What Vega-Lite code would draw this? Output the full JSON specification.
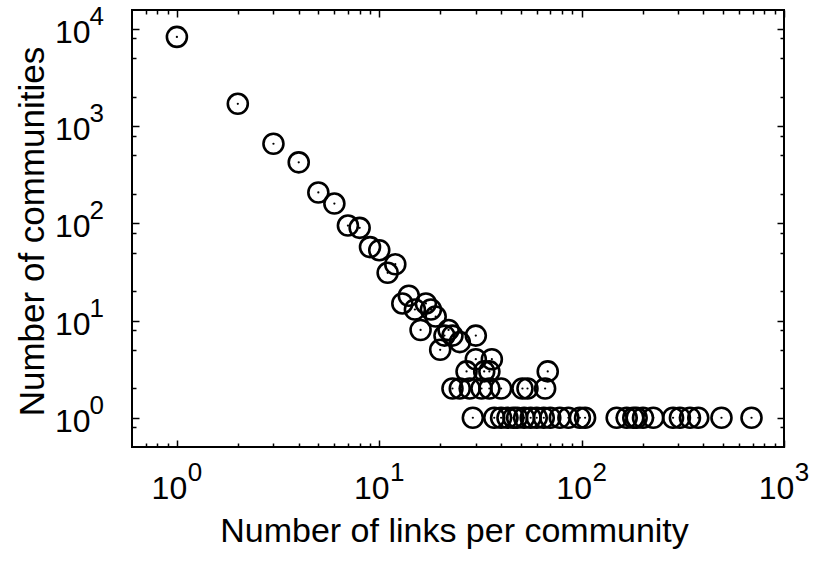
{
  "$schema": "https://vega.github.io/schema/vega-lite/v6.json",
  "width": 652,
  "height": 437,
  "autosize": "none",
  "padding": {"left": 132, "top": 10, "right": 31, "bottom": 114},
  "background": "white",
  "config": {
    "view": {"stroke": "black", "strokeWidth": 2},
    "font": "Liberation Sans",
    "axis": {
      "domain": false,
      "grid": false,
      "tickColor": "black",
      "tickWidth": 1.5,
      "labelColor": "black",
      "titleColor": "black",
      "labelFont": "Liberation Sans",
      "titleFont": "Liberation Sans",
      "titleFontWeight": "normal",
      "labelFlush": false,
      "labelOverlap": false,
      "labelBound": false
    }
  },
  "data": {
    "values": [
      {"links": 1, "communities": 8300},
      {"links": 2, "communities": 1700},
      {"links": 3, "communities": 660},
      {"links": 4, "communities": 425},
      {"links": 5, "communities": 208},
      {"links": 6, "communities": 160},
      {"links": 7, "communities": 95},
      {"links": 8, "communities": 90},
      {"links": 9, "communities": 57},
      {"links": 10, "communities": 53},
      {"links": 11, "communities": 31},
      {"links": 12, "communities": 38},
      {"links": 13, "communities": 15},
      {"links": 14, "communities": 18},
      {"links": 15, "communities": 13},
      {"links": 16, "communities": 8},
      {"links": 17, "communities": 15},
      {"links": 18, "communities": 13},
      {"links": 19, "communities": 11},
      {"links": 20, "communities": 5},
      {"links": 21, "communities": 7},
      {"links": 22, "communities": 8},
      {"links": 23, "communities": 7},
      {"links": 25, "communities": 6},
      {"links": 30, "communities": 7},
      {"links": 30, "communities": 4},
      {"links": 36, "communities": 4},
      {"links": 27, "communities": 3},
      {"links": 33, "communities": 3},
      {"links": 35, "communities": 3},
      {"links": 68, "communities": 3},
      {"links": 23, "communities": 2},
      {"links": 25, "communities": 2},
      {"links": 28, "communities": 2},
      {"links": 32, "communities": 2},
      {"links": 35, "communities": 2},
      {"links": 40, "communities": 2},
      {"links": 51, "communities": 2},
      {"links": 54, "communities": 2},
      {"links": 66, "communities": 2},
      {"links": 29, "communities": 1},
      {"links": 37, "communities": 1},
      {"links": 40, "communities": 1},
      {"links": 43, "communities": 1},
      {"links": 46, "communities": 1},
      {"links": 48, "communities": 1},
      {"links": 52, "communities": 1},
      {"links": 56, "communities": 1},
      {"links": 60, "communities": 1},
      {"links": 65, "communities": 1},
      {"links": 70, "communities": 1},
      {"links": 78, "communities": 1},
      {"links": 86, "communities": 1},
      {"links": 98, "communities": 1},
      {"links": 104, "communities": 1},
      {"links": 149, "communities": 1},
      {"links": 167, "communities": 1},
      {"links": 180, "communities": 1},
      {"links": 187, "communities": 1},
      {"links": 201, "communities": 1},
      {"links": 226, "communities": 1},
      {"links": 283, "communities": 1},
      {"links": 306, "communities": 1},
      {"links": 343, "communities": 1},
      {"links": 377, "communities": 1},
      {"links": 491, "communities": 1},
      {"links": 691, "communities": 1}
    ]
  },
  "resolve": {"axis": {"x": "independent", "y": "independent"}},
  "layer": [
    {
      "mark": {"type": "point", "shape": "circle", "filled": false, "size": 400, "strokeWidth": 2.6, "color": "black", "opacity": 1},
      "encoding": {
        "x": {
          "field": "links", "type": "quantitative",
          "scale": {"type": "log", "domain": [0.6, 1000], "nice": false},
          "axis": {
            "orient": "bottom", "values": [1, 10, 100, 1000], "ticks": false,
            "labelExpr": "'10'", "labelFontSize": 32, "labelBaseline": "alphabetic",
            "labelPadding": 51.6, "labelOffset": -8, "labelAlign": "center",
            "title": "Number of links per community", "titleFontSize": 34,
            "titleBaseline": "alphabetic", "titleAlign": "center", "titleX": 322, "titleY": 94.3
          }
        },
        "y": {
          "field": "communities", "type": "quantitative",
          "scale": {"type": "log", "domain": [0.5, 15700], "nice": false},
          "axis": {
            "orient": "left", "values": [1, 10, 100, 1000, 10000], "ticks": false,
            "labelExpr": "'10'", "labelFontSize": 32, "labelBaseline": "alphabetic",
            "labelPadding": 42, "labelOffset": 13.5, "labelAlign": "right",
            "title": "Number of communities", "titleFontSize": 35,
            "titleBaseline": "alphabetic", "titleAlign": "center", "titleAngle": -90, "titleX": -89, "titleY": 221
          }
        }
      }
    },
    {
      "mark": {"type": "point", "shape": "circle", "filled": true, "size": 5, "color": "black", "opacity": 1},
      "encoding": {
        "x": {
          "field": "links", "type": "quantitative",
          "scale": {"type": "log", "domain": [0.6, 1000], "nice": false},
          "axis": {
            "orient": "bottom", "values": [1, 10, 100, 1000], "ticks": false,
            "labelExpr": "format(round(log(datum.value)/LN10), 'd')", "labelFontSize": 26, "labelBaseline": "alphabetic",
            "labelPadding": 33.3, "labelOffset": 17.5, "labelAlign": "center", "title": null
          }
        },
        "y": {
          "field": "communities", "type": "quantitative",
          "scale": {"type": "log", "domain": [0.5, 15700], "nice": false},
          "axis": {
            "orient": "left", "values": [1, 10, 100, 1000, 10000], "ticks": false,
            "labelExpr": "format(round(log(datum.value)/LN10), 'd')", "labelFontSize": 26, "labelBaseline": "alphabetic",
            "labelPadding": 43, "labelOffset": -4.5, "labelAlign": "left", "title": null
          }
        }
      }
    },
    {
      "mark": {"type": "point", "shape": "circle", "filled": true, "size": 5, "color": "black", "opacity": 0},
      "encoding": {
        "x": {
          "field": "links", "type": "quantitative",
          "scale": {"type": "log", "domain": [0.6, 1000], "nice": false},
          "axis": {"orient": "bottom", "values": [1, 10, 100, 1000], "labels": false, "tickSize": -7, "title": null}
        },
        "y": {
          "field": "communities", "type": "quantitative",
          "scale": {"type": "log", "domain": [0.5, 15700], "nice": false},
          "axis": {"orient": "left", "values": [1, 10, 100, 1000, 10000], "labels": false, "tickSize": -7, "title": null}
        }
      }
    },
    {
      "mark": {"type": "point", "shape": "circle", "filled": true, "size": 5, "color": "black", "opacity": 0},
      "encoding": {
        "x": {
          "field": "links", "type": "quantitative",
          "scale": {"type": "log", "domain": [0.6, 1000], "nice": false},
          "axis": {
            "orient": "bottom",
            "values": [0.7, 0.8, 0.9, 2, 3, 4, 5, 6, 7, 8, 9, 20, 30, 40, 50, 60, 70, 80, 90, 200, 300, 400, 500, 600, 700, 800, 900],
            "labels": false, "tickSize": -4, "title": null
          }
        },
        "y": {
          "field": "communities", "type": "quantitative",
          "scale": {"type": "log", "domain": [0.5, 15700], "nice": false},
          "axis": {
            "orient": "left",
            "values": [0.8, 2, 5, 8, 20, 50, 80, 200, 500, 800, 2000, 5000, 8000],
            "labels": false, "tickSize": -4, "title": null
          }
        }
      }
    },
    {
      "mark": {"type": "point", "shape": "circle", "filled": true, "size": 5, "color": "black", "opacity": 0},
      "encoding": {
        "x": {
          "field": "links", "type": "quantitative",
          "scale": {"type": "log", "domain": [0.6, 1000], "nice": false},
          "axis": {"orient": "top", "values": [1, 10, 100, 1000], "labels": false, "tickSize": -7, "title": null}
        },
        "y": {
          "field": "communities", "type": "quantitative",
          "scale": {"type": "log", "domain": [0.5, 15700], "nice": false},
          "axis": {"orient": "right", "values": [1, 10, 100, 1000, 10000], "labels": false, "tickSize": -7, "title": null}
        }
      }
    },
    {
      "mark": {"type": "point", "shape": "circle", "filled": true, "size": 5, "color": "black", "opacity": 0},
      "encoding": {
        "x": {
          "field": "links", "type": "quantitative",
          "scale": {"type": "log", "domain": [0.6, 1000], "nice": false},
          "axis": {
            "orient": "top",
            "values": [0.7, 0.8, 0.9, 2, 3, 4, 5, 6, 7, 8, 9, 20, 30, 40, 50, 60, 70, 80, 90, 200, 300, 400, 500, 600, 700, 800, 900],
            "labels": false, "tickSize": -4, "title": null
          }
        },
        "y": {
          "field": "communities", "type": "quantitative",
          "scale": {"type": "log", "domain": [0.5, 15700], "nice": false},
          "axis": {
            "orient": "right",
            "values": [0.8, 2, 5, 8, 20, 50, 80, 200, 500, 800, 2000, 5000, 8000],
            "labels": false, "tickSize": -4, "title": null
          }
        }
      }
    }
  ]
}
